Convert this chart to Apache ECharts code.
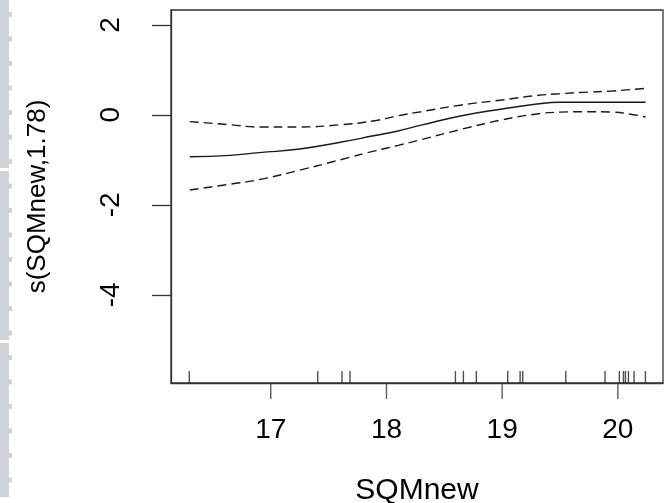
<!DOCTYPE html>
<html>
<head>
<meta charset="utf-8">
<script src="https://cdn.jsdelivr.net/npm/echarts@6/dist/echarts.min.js"></script>
<style>html,body{margin:0;padding:0;background:#fff}#c{width:671px;height:503px}</style>
</head>
<body>
<div id="c"></div>
<script>
// ---- data ----
var xGrid = [16.3, 16.65, 16.9, 17.25, 17.6, 17.9, 18.1, 18.3, 18.65, 19.0, 19.3, 19.5, 19.7, 19.95, 20.1, 20.24];
var fitValues = [-0.93, -0.90, -0.84, -0.76, -0.61, -0.46, -0.36, -0.23, -0.02, 0.13, 0.24, 0.28, 0.28, 0.28, 0.28, 0.28];
var upperValues = [-0.15, -0.22, -0.27, -0.27, -0.22, -0.13, -0.02, 0.07, 0.22, 0.33, 0.43, 0.47, 0.50, 0.53, 0.56, 0.59];
var lowerValues = [-1.67, -1.54, -1.44, -1.23, -1.00, -0.80, -0.68, -0.55, -0.32, -0.11, 0.02, 0.06, 0.07, 0.06, 0.02, -0.05];
var rugValues = [16.296, 17.406, 17.616, 17.685, 18.596, 18.665, 18.777, 19.048, 19.155, 19.178, 19.550, 19.889, 20.013, 20.048, 20.065, 20.091, 20.140, 20.238];
var xTicks = [17, 18, 19, 20];
var yTicks = [-4, -2, 0, 2];
var xName = 'SQMnew';
var yName = 's(SQMnew,1.78)';

var xMin = 16.138, xMax = 20.39, yMin = -5.96, yMax = 2.33;

function pairs(xs, ys) { return xs.map(function (x, i) { return [x, ys[i]]; }); }

// decorative grey strip at left edge
var strip = [];
[[0, 168], [171, 340], [343, 497]].forEach(function (s) {
  strip.push({ type: 'rect', shape: { x: 0, y: s[0], width: 9, height: s[1] - s[0] }, style: { fill: '#cfd3d9' }, silent: true });
});
for (var yy = 12; yy < 495; yy += 24.5) {
  strip.push({ type: 'rect', shape: { x: 9, y: yy, width: 3, height: 5 }, style: { fill: '#cfd3d9' }, silent: true });
}

var chart = echarts.init(document.getElementById('c'), null, { renderer: 'canvas' });
var font = 'Liberation Sans, Arial, Helvetica, sans-serif';
chart.setOption({
  animation: false,
  backgroundColor: '#fff',
  graphic: strip,
  grid: { left: 171, right: 8, top: 10, bottom: 120, containLabel: false, outerBoundsMode: 'none',
          show: true, borderColor: '#333', borderWidth: 1.3, backgroundColor: 'transparent' },
  xAxis: {
    type: 'value', min: xMin, max: xMax, position: 'bottom',
    name: xName, nameLocation: 'middle', nameGap: 93,
    nameTextStyle: { fontFamily: font, fontSize: 30, color: '#000' },
    axisLine: { show: true, onZero: false, lineStyle: { color: '#333', width: 1.3 } },
    axisTick: { show: false },
    axisLabel: { customValues: xTicks, fontFamily: font, fontSize: 28, color: '#000', margin: 33 },
    splitLine: { show: false }
  },
  yAxis: {
    type: 'value', min: yMin, max: yMax, position: 'left',
    name: yName, nameLocation: 'middle', nameGap: 120,
    nameTextStyle: { fontFamily: font, fontSize: 26, color: '#000' },
    axisLine: { show: true, onZero: false, lineStyle: { color: '#333', width: 1.3 } },
    axisTick: { show: true, inside: false, customValues: yTicks, length: 19, lineStyle: { color: '#333', width: 1.3 } },
    axisLabel: { customValues: yTicks, rotate: 90, fontFamily: font, fontSize: 28, color: '#000', margin: 46 },
    splitLine: { show: false }
  },
  series: [
    { type: 'line', data: pairs(xGrid, fitValues), smooth: true, showSymbol: false, lineStyle: { color: '#1a1a1a', width: 1.4, type: 'solid' } },
    { type: 'line', data: pairs(xGrid, upperValues), smooth: true, showSymbol: false, lineStyle: { color: '#1a1a1a', width: 1.4, type: [9, 5] } },
    { type: 'line', data: pairs(xGrid, lowerValues), smooth: true, showSymbol: false, lineStyle: { color: '#1a1a1a', width: 1.4, type: [9, 5] } },
    { type: 'scatter', clip: false, data: rugValues.map(function (v) { return [v, yMin]; }),
      symbol: 'rect', symbolSize: [1.4, 12], symbolOffset: [0, -6], itemStyle: { color: '#222' } },
    // x-axis tick marks (outside, downward)
    { type: 'scatter', clip: false, data: xTicks.map(function (v) { return [v, yMin]; }),
      symbol: 'rect', symbolSize: [1.4, 16], symbolOffset: [0, 8], itemStyle: { color: '#333' } }
  ]
});
</script>
</body>
</html>
